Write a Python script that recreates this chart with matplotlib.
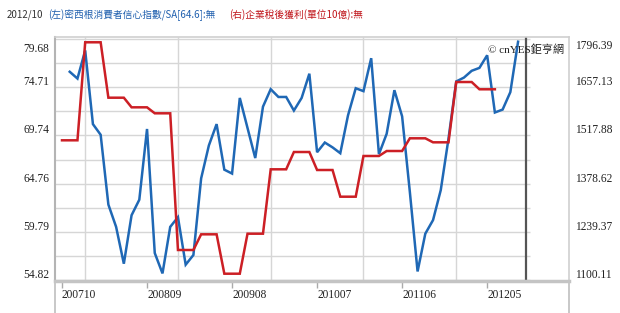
import matplotlib
matplotlib.use('Agg')
import matplotlib.pyplot as plt
import matplotlib.transforms as mtransforms
from matplotlib.lines import Line2D
import numpy as np

# ---------------- data ----------------
# month index 0 = 2007-10
tick_idx = [0, 11, 22, 33, 44, 55]
tick_labels = ['200710', '200809', '200908', '201007', '201106', '201205']
jan_idx = [3, 15, 27, 39, 51]          # January of 2008..2012 (vertical gridlines)
current_idx = 60                       # 2012-10 marker line

# Michigan consumer sentiment (left axis), monthly 2007-11 .. 2012-09
sentiment_start = 1
sentiment = [76.3, 75.6,
             78.5, 70.9, 69.8, 62.6, 60.3, 56.5, 61.5, 63.1, 70.4, 57.6, 55.5, 60.3,
             61.3, 56.4, 57.4, 65.3, 68.7, 70.9, 66.2, 65.8, 73.6, 70.5, 67.4, 72.7,
             74.5, 73.7, 73.7, 72.3, 73.6, 76.1, 68.0, 69.0, 68.5, 67.9, 71.8, 74.6,
             74.3, 77.7, 67.8, 69.9, 74.4, 71.7, 63.9, 55.7, 59.6, 61.0, 64.1, 69.4,
             75.3, 75.7, 76.4, 76.7, 78.0, 72.1, 72.4, 74.2, 79.4]

# Corporate profits after tax (right axis), quarterly Q4-2007 .. Q2-2012, shown monthly
profit_start = 0
profits_q = [1503.7, 1786.9, 1626.8, 1599.0, 1581.7, 1186.8, 1232.1, 1118.3, 1233.9,
             1419.9, 1469.9, 1417.9, 1340.8, 1458.4, 1472.8, 1509.5, 1497.9, 1672.1, 1651.1]

left_ticks = [54.82, 59.79, 64.76, 69.74, 74.71, 79.68]
left_labels = ['54.82', '59.79', '64.76', '69.74', '74.71', '79.68']
right_ticks = [1100.11, 1239.37, 1378.62, 1517.88, 1657.13, 1796.39]
right_labels = ['1100.11', '1239.37', '1378.62', '1517.88', '1657.13', '1796.39']

title_date = '2012/10'
title_left = '(左)密西根消費者信心指數/SA[64.6]:無'
title_right = '(右)企業稅後獲利(單位10億):無'
watermark = '© cnYES鉅亨網'

# ---------------- style ----------------
BLUE = '#1f68b5'
RED = '#cc1f25'
GRID = '#d6d6d6'
SERIF = ['Liberation Serif', 'DejaVu Serif']
CJK = ['Noto Sans CJK TC', 'DejaVu Sans']

W, H = 620, 313
fig = plt.figure(figsize=(W / 100, H / 100), dpi=100)
L, R, T, B = 55, 569, 37, 281
ax = fig.add_axes([L / W, 1 - B / H, (R - L) / W, (B - T) / H])

# y scales: label values sit at pixel 280 (min) and 39 (max)
k1 = (left_ticks[-1] - left_ticks[0]) / 241.0
ax.set_ylim(left_ticks[0] - (B - 280) * k1, left_ticks[-1] + (39 - T) * k1)
ax2 = ax.twinx()
k2 = (right_ticks[-1] - right_ticks[0]) / 241.0
ax2.set_ylim(right_ticks[0] - (B - 280) * k2, right_ticks[-1] + (39 - T) * k2)

px = 7.73
x0 = (L - 62) / px
x1 = (R - 62) / px
ax.set_xlim(x0, x1)

# gridlines
grid_levels = np.linspace(left_ticks[0], left_ticks[-1], 11)
ax.hlines(grid_levels, x0, current_idx + 0.6, colors=GRID, lw=1.0, zorder=1)
ax.vlines(jan_idx, ax.get_ylim()[0], ax.get_ylim()[1], colors=GRID, lw=1.0, zorder=1)
ax.vlines([current_idx], ax.get_ylim()[0], ax.get_ylim()[1], colors='#555555', lw=1.6, zorder=2)

# series
xs = np.arange(sentiment_start, sentiment_start + len(sentiment))
ax.plot(xs, sentiment, color=BLUE, lw=1.8, zorder=3, solid_joinstyle='miter')
profits_m = np.repeat(profits_q, 3)
xr = np.arange(profit_start, profit_start + len(profits_m))
ax2.plot(xr, profits_m, color=RED, lw=1.8, zorder=3, solid_joinstyle='miter')
ax.set_xlim(x0, x1)

# axes styling
for a in (ax, ax2):
    a.set_yticks([])
    for s in a.spines.values():
        s.set_visible(False)
ax.spines['left'].set_visible(True)
ax.spines['left'].set_color('#b4b4b4')
ax.spines['left'].set_linewidth(1.5)
ax.spines['top'].set_visible(True)
ax.spines['top'].set_color('#cfcfcf')
ax.spines['top'].set_linewidth(1.2)
ax.spines['right'].set_visible(True)
ax.spines['right'].set_color('#cfcfcf')
ax.spines['right'].set_linewidth(1.2)
ax.spines['bottom'].set_visible(True)
ax.spines['bottom'].set_color('#c4c4c4')
ax.spines['bottom'].set_linewidth(2.5)

ax.set_xticks(tick_idx)
ax.set_xticklabels(tick_labels, fontsize=8.3, family=SERIF, color='#222222')
for lab in ax.get_xticklabels():
    lab.set_horizontalalignment('left')
ax.tick_params(axis='x', direction='out', length=5, width=1, color='#aaaaaa', pad=0.5)

# y labels
def ylabels(a, vals, labs, side):
    for i, (v, s) in enumerate(zip(vals, labs)):
        top = (i == len(vals) - 1)
        if side == 'left':
            dx, ha, xa = -6, 'right', 0
        else:
            dx, ha, xa = 6, 'left', 1
        if top:
            dy, va = (-4 if side == 'left' else -1), 'top'
        else:
            dy, va = 2, 'baseline'
        tr = mtransforms.blended_transform_factory(a.transAxes, a.transData) + \
            mtransforms.ScaledTranslation(dx / 100, dy / 100, fig.dpi_scale_trans)
        a.text(xa, v, s, transform=tr, ha=ha, va=va, fontsize=8.3, family=SERIF,
               color='#222222', clip_on=False)

ylabels(ax, left_ticks, left_labels, 'left')
ylabels(ax2, right_ticks, right_labels, 'right')

# box continuation below the plot
for xp in (L, R):
    fig.add_artist(Line2D([xp / W, xp / W], [0, 1 - B / H], color='#c4c4c4', lw=1.3))

# titles
fig.text(7 / W, 1 - 15 / H, title_date, fontsize=7, family=CJK, color='#333333', va='center')
fig.text(48 / W, 1 - 15 / H, title_left, fontsize=7, family=CJK, color='#1f5fae', va='center')
fig.text(229 / W, 1 - 15 / H, title_right, fontsize=7, family=CJK, color='#c0141a', va='center')
fig.text(488 / W, 1 - 50 / H, watermark, fontsize=8, family=['Liberation Serif', 'Noto Sans CJK TC'],
         color='#222222', va='center')

fig.savefig('out.png', dpi=100)
